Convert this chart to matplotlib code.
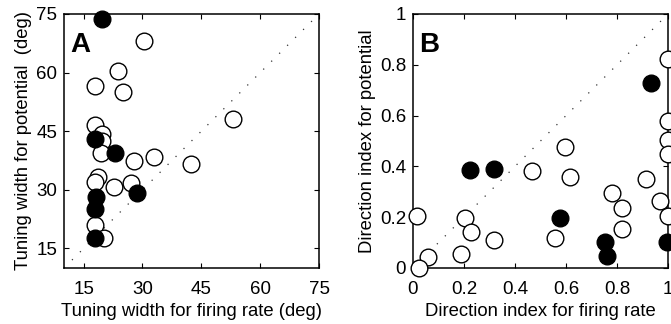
import matplotlib

matplotlib.use("Agg")
import matplotlib.pyplot as plt

# panel A: tuning widths (deg)
a_open_x = [30.3, 23.8, 18.0, 25.0, 18.0, 19.7, 19.8, 19.4, 27.9, 33.0, 42.4, 53.0,
            18.6, 18.0, 22.8, 27.0, 18.0, 20.3]
a_open_y = [68.1, 60.3, 56.6, 55.1, 46.6, 44.2, 42.4, 39.4, 37.5, 38.3, 36.6, 48.1,
            33.2, 32.1, 30.7, 31.7, 21.1, 17.6]
a_fill_x = [19.7, 17.8, 22.9, 18.1, 18.0, 28.5, 17.9]
a_fill_y = [73.6, 43.1, 39.4, 28.1, 25.2, 29.2, 17.8]
a_ticks = [15, 30, 45, 60, 75]

# panel B: direction indices
b_open_x = [1.0, 1.0, 1.0, 1.0, 0.598, 0.468, 0.615, 0.915, 0.782, 0.97, 0.821, 1.0,
            0.016, 0.205, 0.227, 0.821, 0.557, 0.318, 0.189, 0.057, 0.025]
b_open_y = [0.822, 0.577, 0.505, 0.45, 0.478, 0.38, 0.358, 0.351, 0.295, 0.262, 0.236, 0.206,
            0.206, 0.197, 0.14, 0.155, 0.118, 0.109, 0.055, 0.043, 0.0]
b_fill_x = [0.935, 0.224, 0.316, 0.576, 0.752, 0.761, 0.997]
b_fill_y = [0.727, 0.384, 0.389, 0.197, 0.101, 0.048, 0.101]
b_ticks = [0, 0.2, 0.4, 0.6, 0.8, 1]
b_ticklabels = ["0", "0.2", "0.4", "0.6", "0.8", "1"]

plt.rcParams["font.family"] = ["Liberation Sans", "DejaVu Sans"]
plt.rcParams["font.size"] = 13

fig = plt.figure(figsize=(6.71, 3.24), dpi=100)
W, H = 671, 324


def make_ax(left, right, top, bottom):
    ax = fig.add_axes([left / W, 1 - bottom / H, (right - left) / W, (bottom - top) / H])
    for sp in ax.spines.values():
        sp.set_linewidth(1.1)
    ax.tick_params(axis="x", pad=9)
    ax.tick_params(axis="y", pad=5)
    ax.tick_params(direction="in", top=True, right=True, length=3.5, width=0.8,
                   labelsize=13.5)
    return ax


def scatter(ax, ox, oy, fx, fy):
    ax.plot(ox, oy, "o", ms=12, mfc="white", mec="black", mew=1.0, ls="none",
            clip_on=False, zorder=3)
    ax.plot(fx, fy, "o", ms=12, mfc="black", mec="black", mew=1.0, ls="none",
            clip_on=False, zorder=4)


axA = make_ax(64, 319, 14, 268)
axA.plot([10, 75], [10, 75], color="#333333", lw=0.9, ls=(0, (1, 8)), zorder=1)
scatter(axA, a_open_x, a_open_y, a_fill_x, a_fill_y)
axA.set_xlim(10, 75)
axA.set_ylim(10, 75)
axA.set_xticks(a_ticks)
axA.set_yticks(a_ticks)
axA.set_xlabel("Tuning width for firing rate (deg)", fontsize=13.3, labelpad=4)
axA.set_ylabel("Tuning width for potential  (deg)", fontsize=13.3, labelpad=3)
axA.text(0.025, 0.93, "A", transform=axA.transAxes, fontsize=20, fontweight="bold",
         va="top", ha="left")

axB = make_ax(413, 668, 14, 268)
axB.plot([0, 1], [0, 1], color="#333333", lw=0.9, ls=(0, (1, 8)), zorder=1)
scatter(axB, b_open_x, b_open_y, b_fill_x, b_fill_y)
axB.set_xlim(0, 1)
axB.set_ylim(0, 1)
axB.set_xticks(b_ticks, b_ticklabels)
axB.set_yticks(b_ticks, b_ticklabels)
axB.set_xlabel("Direction index for firing rate", fontsize=13.3, labelpad=4)
axB.set_ylabel("Direction index for potential", fontsize=13.3, labelpad=3)
axB.text(0.025, 0.93, "B", transform=axB.transAxes, fontsize=20, fontweight="bold",
         va="top", ha="left")

fig.savefig("out.png", dpi=100)
